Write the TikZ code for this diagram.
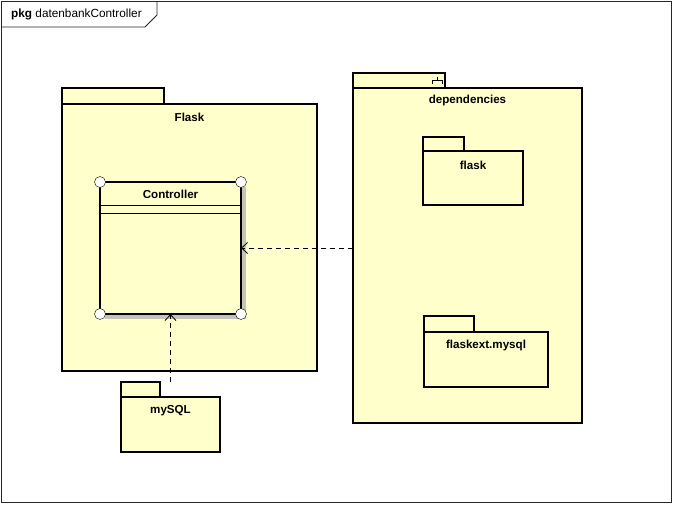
\documentclass[tikz,border=0pt]{standalone}
\usepackage{fontspec}
\setmainfont{Liberation Sans}
\usepackage{tikz}
\usetikzlibrary{arrows.meta,positioning,shadows}
\usepackage{xcolor}
\definecolor{pkgfill}{RGB}{255,255,204}
\definecolor{shadowcol}{RGB}{196,196,184}
\tikzstyle{frame}=[line width=0.9pt,black!85]
\tikzstyle{pkgbody}=[draw,line width=2pt,fill=pkgfill,outer sep=0,inner sep=0]
\tikzstyle{pkgtab}=[pkgbody,anchor=south west]
\tikzstyle{pkgname}=[font=\fontsize{11.6}{14}\selectfont\bfseries,inner sep=0]
\tikzstyle{classbox}=[pkgbody,drop shadow={shadow xshift=5pt,shadow yshift=-5pt,
  fill=shadowcol,opacity=1}]
\tikzstyle{corner}=[circle,draw,thin,fill=white,inner sep=0,minimum size=11pt]
\tikzstyle{dep}=[thin,dash pattern=on 5pt off 4pt,
  -{Straight Barb[length=6pt,width=11pt,line width=0.8pt]}]
\def\ctrlw{141}
\def\ctrlh{132}

\begin{document}
\begin{tikzpicture}[x=1pt,y=-1pt]
  \useasboundingbox (0,0) rectangle (676,506);

  % FRAME
  \draw[frame] (1,1) rectangle (671,502);
  \draw[frame] (1,27) -- (145,27) -- (157,15) -- (157,1);
  \node[anchor=west,inner sep=0,font=\fontsize{11.8}{14}\selectfont] (frametitle)
    at (11,14) {\textbf{pkg} datenbankController};

  % PACKAGE FLASK
  \node[pkgbody,anchor=north west,minimum width=255pt,minimum height=267pt]
    (flask) at (62,104) {};
  \node[pkgtab,minimum width=102pt,minimum height=16pt] (flasktab)
    at (flask.north west) {};
  \node[pkgname] (flaskname) at ([yshift=-13pt]flask.north) {Flask};

  % CLASS CONTROLLER
  \node[classbox,anchor=north west,minimum width=\ctrlw pt,minimum height=\ctrlh pt]
    (ctrl) at (100,182) {};
  \node[pkgname] (ctrlname) at ([yshift=-12pt]ctrl.north) {Controller};
  \draw[thin] ([yshift=-23pt]ctrl.north west) -- ([yshift=-23pt]ctrl.north east);
  \draw[thin] ([yshift=-31pt]ctrl.north west) -- ([yshift=-31pt]ctrl.north east);
  \foreach \c in {north west,north east,south west,south east}
    \node[corner] (ctrl-\c) at (ctrl.\c) {};

  % PACKAGE MYSQL
  \node[pkgbody,anchor=north west,minimum width=99pt,minimum height=55pt]
    (mysql) at (121,397) {};
  \node[pkgtab,minimum width=39pt,minimum height=15pt] (mysqltab)
    at (mysql.north west) {};
  \node[pkgname] (mysqlname) at ([yshift=-14pt]mysql.north) {mySQL};

  % PACKAGE DEPENDENCIES
  \node[pkgbody,anchor=north west,minimum width=229pt,minimum height=335pt]
    (deps) at (353,88) {};
  \node[pkgtab,minimum width=92pt,minimum height=15pt] (depstab)
    at (deps.north west) {};
  \draw[thin] (437,76.5) -- (437,80) (432,84) -- (432,80) -- (442,80) -- (442,84);
  \node[pkgname] (depsname) at ([yshift=-12pt]deps.north) {dependencies};

  \node[pkgbody,anchor=north west,minimum width=100pt,minimum height=54pt]
    (flasklib) at (423,151) {};
  \node[pkgtab,minimum width=41pt,minimum height=14pt] (flasklibtab)
    at (flasklib.north west) {};
  \node[pkgname] (flasklibname) at ([yshift=-14pt]flasklib.north) {flask};

  \node[pkgbody,anchor=north west,minimum width=124pt,minimum height=55pt]
    (flaskext) at (424,332) {};
  \node[pkgtab,minimum width=50pt,minimum height=16pt] (flaskexttab)
    at (flaskext.north west) {};
  \node[pkgname] (flaskextname) at ([yshift=-13pt]flaskext.north) {flaskext.mysql};

  % DEPENDENCY ARROWS
  \draw[dep] (ctrl.east -| deps.west) -- (ctrl.east);
  \draw[dep] (ctrl.south |- mysqltab.north) -- (ctrl.south);

\end{tikzpicture}
\end{document}
